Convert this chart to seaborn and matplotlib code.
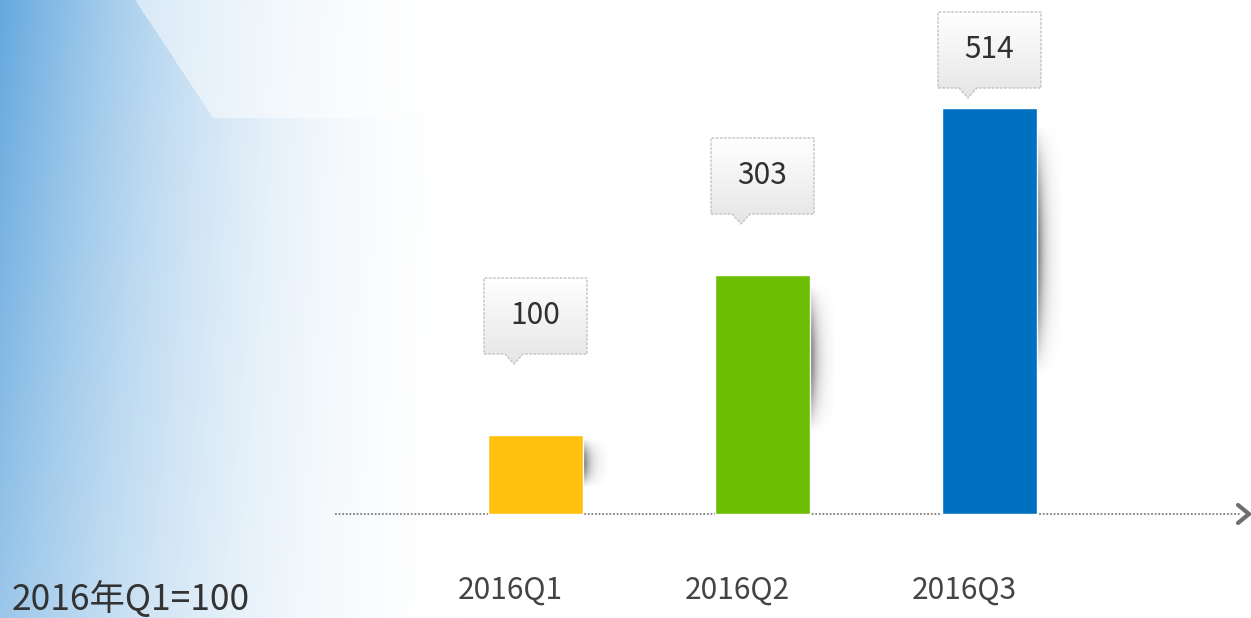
import numpy as np
import pandas as pd
import matplotlib
matplotlib.use("Agg")
import matplotlib.pyplot as plt
import seaborn as sns
from matplotlib.patches import Polygon

# data
quarters = ["2016Q1", "2016Q2", "2016Q3"]
index_values = [100, 303, 514]
bar_colors = ["#FFC010", "#6CBE00", "#0070C0"]
note_text = "2016年Q1=100"

# canvas layout, in pixels of the 1251x618 picture
W, H = 1251, 618
first_x_px, step_px = 535, 227
base_px = 514                 # baseline, from top
y_px_per_unit = 406 / 514
callout_bottom_px = [354, 214, 88]


def dx(px):
    return px / step_px


def dy(px):
    return px / y_px_per_unit


sns.set_theme(style="white")
plt.rcParams["font.family"] = ["Noto Sans CJK SC", "DejaVu Sans"]

fig = plt.figure(figsize=(W / 100, H / 100), dpi=100)

# background: blue wash on the left with a faint triangle at the top
bg = fig.add_axes([0, 0, 1, 1], zorder=0)
xs = np.arange(W)[None, :]
ys = np.arange(H)[:, None]
a = np.clip(1 - xs / 470.0, 0, 1) ** 2.0 * (1 - 0.35 * ys / H)
diag = 135 + (213 - 135) * ys / 118.0
a = np.where((ys < 118) & (xs > diag), a * 0.5, a)
left_col = np.array([100, 168, 222]) / 255.0
img = 1 - a[..., None] * (1 - left_col[None, None, :])
bg.imshow(img, aspect="auto", extent=(0, W, H, 0))
bg.set_axis_off()

ax = fig.add_axes([0, 0, 1, 1], zorder=1)
ax.patch.set_alpha(0)

df = pd.DataFrame({"quarter": quarters, "value": index_values})
sns.barplot(data=df, x="quarter", y="value", hue="quarter", palette=bar_colors,
            saturation=1, width=95 / step_px, legend=False, ax=ax, zorder=3)

ax.set_axis_off()
bars = sorted(ax.patches, key=lambda p: p.get_x())

# baseline with chevron
ax.axhline(0, xmin=335 / W, xmax=1240 / W, color="#808080", lw=1.3,
           ls=(0, (1, 1)), zorder=2)
ex = (1249 - first_x_px) / step_px
ax.plot([ex - dx(11), ex, ex - dx(11)], [dy(9), 0, -dy(9)], color="#6e6e6e",
        lw=3, solid_capstyle="round", solid_joinstyle="miter", zorder=2)

for i, bar in enumerate(bars):
    cx = bar.get_x() + bar.get_width() / 2
    top = bar.get_height()
    xr = bar.get_x() + bar.get_width()

    # soft shadow on the right side of each bar (row 0 = bar top)
    nv, nh = 160, 40
    v = np.linspace(0, 1, nv)[:, None]
    prof = np.clip(np.sin(np.pi * (v - 0.04) / 0.62), 0, None)
    prof[v[:, 0] > 0.66] = 0
    h = np.linspace(0, 1, nh)[None, :]
    alpha = 0.6 * prof * np.exp(-h * 3.5)
    rgba = np.zeros((nv, nh, 4))
    rgba[..., 3] = alpha
    ax.imshow(rgba, extent=(xr, xr + dx(24), 0, top), aspect="auto",
              zorder=2, interpolation="bilinear")

    # callout box
    left, right = cx - dx(51), cx + dx(52)
    bottom = (base_px - callout_bottom_px[i]) / y_px_per_unit
    btop = bottom + dy(76)
    px = left + dx(30)
    pts = [(left, bottom), (px - dx(9), bottom), (px, bottom - dy(10)),
           (px + dx(9), bottom), (right, bottom), (right, btop), (left, btop)]
    poly = Polygon(pts, closed=True, facecolor="none", edgecolor="#c4c4c4",
                   lw=1, ls=(0, (2, 1)), zorder=5)
    ax.add_patch(poly)
    grad = np.linspace(1.0, 0.9, 60)[:, None] * np.ones((60, 2))
    gimg = ax.imshow(np.dstack([grad] * 3), extent=(left, right, bottom - dy(10), btop),
                     aspect="auto", zorder=4)
    gimg.set_clip_path(poly)
    ax.text(cx, (bottom + btop) / 2, f"{index_values[i]}", ha="center",
            va="center", fontsize=21.5, color="#303030", zorder=6)

    # category label
    ax.text(cx - dx(25), -dy(76), quarters[i], ha="center", va="center",
            fontsize=21.5, color="#444444", zorder=6)

fig.text(12 / W, 1 - 600 / H, note_text, ha="left", va="center",
         fontsize=25.5, color="#333333")

ax.set_xlim(-first_x_px / step_px, (W - first_x_px) / step_px)
ax.set_ylim(-dy(H - base_px), dy(base_px))

fig.savefig("out.png", dpi=100)
